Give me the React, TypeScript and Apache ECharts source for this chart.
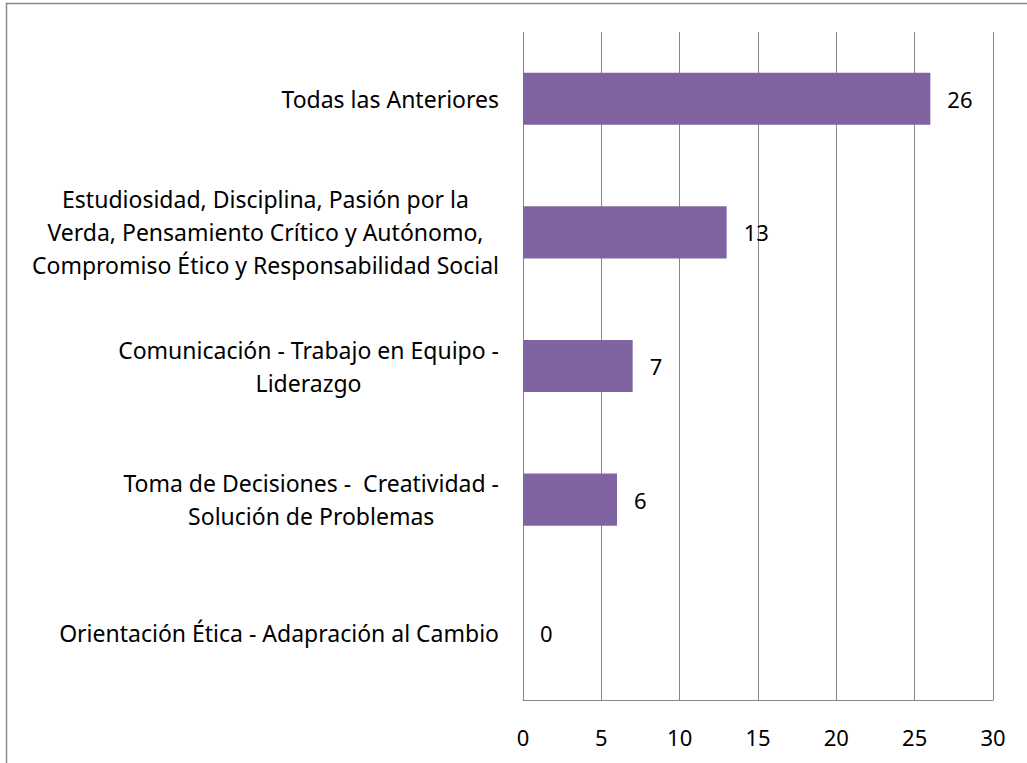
import React, { useEffect, useRef } from "react";
import * as echarts from "echarts";

const categories: string[] = [
  "Todas las Anteriores",
  "Estudiosidad, Disciplina, Pasión por la\nVerda, Pensamiento Crítico y Autónomo,\nCompromiso Ético y Responsabilidad Social",
  "Comunicación - Trabajo en Equipo -\nLiderazgo",
  "Toma de Decisiones -  Creatividad -\nSolución de Problemas",
  "Orientación Ética - Adapración al Cambio",
];
const values: number[] = [26, 13, 7, 6, 0];
const xTicks = { min: 0, max: 30, interval: 5 };

const FONT = "Noto Sans";

export default function App() {
  const ref = useRef<HTMLDivElement>(null);
  useEffect(() => {
    if (!ref.current) return;
    const chart = echarts.init(ref.current, undefined, { renderer: "svg" });
    chart.setOption({
      animation: false,
      backgroundColor: "#ffffff",
      textStyle: { fontFamily: FONT },
      graphic: [
        {
          type: "rect",
          shape: { x: 6.5, y: 3.5, width: 1100, height: 800 },
          style: { fill: "none", stroke: "#8a8a8a", lineWidth: 1.5 },
          silent: true,
        },
      ],
      grid: { left: 523, right: 34, top: 32, bottom: 63, containLabel: false },
      xAxis: {
        type: "value",
        min: xTicks.min,
        max: xTicks.max,
        interval: xTicks.interval,
        axisLine: { show: true, lineStyle: { color: "#868686", width: 1 } },
        axisTick: { show: false },
        splitLine: { show: true, lineStyle: { color: "#868686", width: 1 } },
        axisLabel: { color: "#000", fontSize: 22, fontFamily: FONT, margin: 26 },
      },
      yAxis: {
        type: "category",
        inverse: true,
        data: categories,
        axisLine: { show: false },
        axisTick: { show: false },
        axisLabel: {
          color: "#000",
          fontSize: 23,
          fontFamily: FONT,
          margin: 24,
          align: "right",
          lineHeight: 33,
          formatter: (v: string) =>
            v
              .split("\n")
              .map((l) => "{c|" + l + "}")
              .join("\n"),
          rich: {
            c: { align: "center", fontSize: 23, fontFamily: FONT, color: "#000", lineHeight: 33 },
          },
        },
      },
      series: [
        {
          type: "bar",
          data: values,
          barCategoryGap: "61%",
          itemStyle: { color: "#8064A2" },
          label: {
            show: true,
            position: "right",
            distance: 17,
            color: "#000",
            fontSize: 22,
            fontFamily: FONT,
          },
        },
      ],
    });
    return () => chart.dispose();
  }, []);
  return (
    <div
      ref={ref}
      style={{ position: "absolute", left: 0, top: 0, width: 1027, height: 763 }}
    />
  );
}
